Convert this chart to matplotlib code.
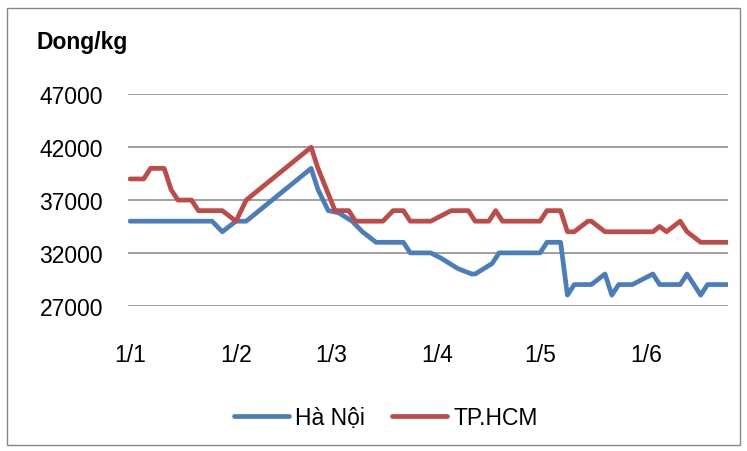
import numpy as np
import pandas as pd
import matplotlib
matplotlib.use("Agg")
import matplotlib.pyplot as plt
from matplotlib.patches import Rectangle

############### data (Dong/kg)
hn_dates = ['2013-01-01', '2013-01-25', '2013-01-28', '2013-02-01', '2013-02-04', '2013-02-23',
            '2013-02-25', '2013-02-28', '2013-03-03', '2013-03-07', '2013-03-10', '2013-03-14',
            '2013-03-22', '2013-03-24', '2013-03-30', '2013-04-02', '2013-04-07', '2013-04-11',
            '2013-04-12', '2013-04-17', '2013-04-19', '2013-05-01', '2013-05-03', '2013-05-07',
            '2013-05-09', '2013-05-11', '2013-05-16', '2013-05-20', '2013-05-22', '2013-05-24',
            '2013-05-28', '2013-06-03', '2013-06-05', '2013-06-11', '2013-06-13', '2013-06-17',
            '2013-06-19', '2013-06-25']
hn_price = [35000, 35000, 34000, 35000, 35000, 40000,
            38000, 36000, 35800, 35000, 34000, 33000,
            33000, 32000, 32000, 31500, 30500, 30000,
            30000, 31000, 32000, 32000, 33000, 33000,
            28000, 29000, 29000, 30000, 28000, 29000,
            29000, 30000, 29000, 29000, 30000, 28000,
            29000, 29000]

hcm_dates = ['2013-01-01', '2013-01-05', '2013-01-07', '2013-01-11', '2013-01-13', '2013-01-15',
             '2013-01-19', '2013-01-21', '2013-01-28', '2013-02-01', '2013-02-04', '2013-02-23',
             '2013-02-25', '2013-03-02', '2013-03-06', '2013-03-08', '2013-03-16', '2013-03-19',
             '2013-03-22', '2013-03-24', '2013-03-30', '2013-04-05', '2013-04-10', '2013-04-12',
             '2013-04-16', '2013-04-18', '2013-04-20', '2013-05-01', '2013-05-03', '2013-05-07',
             '2013-05-09', '2013-05-11', '2013-05-15', '2013-05-16', '2013-05-20', '2013-06-03',
             '2013-06-05', '2013-06-07', '2013-06-11', '2013-06-13', '2013-06-17', '2013-06-25']
hcm_price = [39000, 39000, 40000, 40000, 38000, 37000,
             37000, 36000, 36000, 35000, 37000, 42000,
             40000, 36000, 36000, 35000, 35000, 36000,
             36000, 35000, 35000, 36000, 36000, 35000,
             35000, 36000, 35000, 35000, 36000, 36000,
             34000, 34000, 35000, 35000, 34000, 34000,
             34500, 34000, 35000, 34000, 33000, 33000]

tick_dates = ['2013-01-01', '2013-02-01', '2013-03-01', '2013-04-01', '2013-05-01', '2013-06-01']
tick_labels = ['1/1', '1/2', '1/3', '1/4', '1/5', '1/6']
y_ticks = [27000, 32000, 37000, 42000, 47000]

series_names = ['Hà Nội', 'TP.HCM']

plt.rcParams['font.family'] = ['Liberation Sans', 'DejaVu Sans']
fs = 16.5

fig = plt.figure(figsize=(7.47, 4.52), dpi=100)
ax = fig.add_axes([0.1714, 0.3215, 0.8032, 0.4673])

ax.plot(pd.to_datetime(hn_dates), hn_price, color='#4A7EBB', lw=3.4,
        solid_joinstyle='round', solid_capstyle='round', label=series_names[0])
ax.plot(pd.to_datetime(hcm_dates), hcm_price, color='#BE4B48', lw=3.4,
        solid_joinstyle='round', solid_capstyle='round', label=series_names[1])

############### axes
ax.set_ylim(27000, 47000)
ax.set_yticks(y_ticks)
ax.set_xlim(pd.Timestamp('2013-01-01') - pd.Timedelta(hours=14), pd.Timestamp('2013-06-25'))
ax.set_xticks(pd.to_datetime(tick_dates))
ax.set_xticklabels(tick_labels)
ax.tick_params(axis='both', length=0, labelsize=fs)
ax.tick_params(axis='x', pad=27)
ax.tick_params(axis='y', pad=18)
ax.grid(axis='y', color='#868686', lw=1.1)
ax.set_axisbelow(True)
for s in ax.spines.values():
    s.set_visible(False)

fig.text(37 / 747, 1 - 42 / 452, 'Dong/kg', fontsize=fs, fontweight='bold', va='center', ha='left')

fig.legend(loc='center', bbox_to_anchor=(0.5167, 0.075), ncol=2, frameon=False, fontsize=fs,
           handlelength=2.4, handletextpad=0.25, columnspacing=1.2)

############### chart border
fig.patches.append(Rectangle((7 / 747, 1 - 446 / 452), 733 / 747, 437 / 452, transform=fig.transFigure,
                             fill=False, edgecolor='#868686', lw=1.0))

fig.savefig('out.png', dpi=100)
